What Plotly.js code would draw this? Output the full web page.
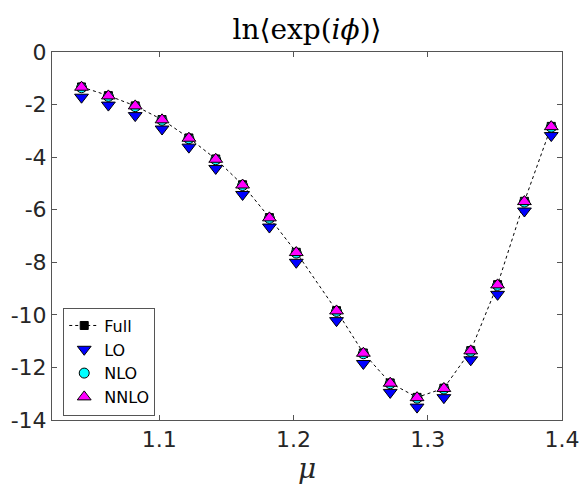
<!DOCTYPE html>
<html>
<head>
<meta charset="utf-8">
<script src="https://cdn.plot.ly/plotly-3.0.1.min.js"></script>
<style>html,body{margin:0;padding:0;background:#fff;}#chart{width:582px;height:491px;}</style>
</head>
<body>
<div id="chart"></div>
<script>
const mu = [1.042,1.062,1.082,1.102,1.122,1.142,1.162,1.182,1.202,1.232,1.252,1.272,1.292,1.312,1.332,1.352,1.372,1.392];
const full = [-1.33,-1.66,-2.05,-2.57,-3.27,-4.07,-5.05,-6.30,-7.62,-9.84,-11.45,-12.59,-13.14,-12.79,-11.36,-8.85,-5.68,-2.83];
const lo   = [-1.72,-2.02,-2.42,-2.93,-3.62,-4.43,-5.42,-6.66,-8.00,-10.22,-11.85,-12.95,-13.51,-13.15,-11.71,-9.22,-6.05,-3.18];
const nlo  = [-1.36,-1.69,-2.08,-2.60,-3.30,-4.10,-5.08,-6.33,-7.65,-9.87,-11.48,-12.62,-13.17,-12.82,-11.39,-8.88,-5.71,-2.86];
const nnlo = [-1.34,-1.67,-2.05,-2.58,-3.28,-4.08,-5.06,-6.31,-7.63,-9.85,-11.46,-12.60,-13.15,-12.80,-11.37,-8.86,-5.69,-2.84];
const names = ['Full','LO','NLO','NNLO'];
const xTicks = [1.1,1.2,1.3,1.4];
const yTicks = [0,-2,-4,-6,-8,-10,-12,-14];

const edge = {color:'#000', width:1};
const traces = [
  {x:mu, y:full, name:names[0], mode:'lines+markers', line:{color:'#000', width:1, dash:'3px,3px'},
   marker:{symbol:'square', size:8, color:'#000', line:edge}},
  {x:mu, y:lo, name:names[1], mode:'markers', marker:{symbol:'triangle-down', size:12, color:'#0000ff', line:edge}},
  {x:mu, y:nlo, name:names[2], mode:'markers', marker:{symbol:'circle', size:10, color:'#00ffff', line:edge}},
  {x:mu, y:nnlo, name:names[3], mode:'markers', marker:{symbol:'triangle-up', size:12, color:'#ff00ff', line:edge}}
];

const axisCommon = {
  showline:true, mirror:'ticks', linecolor:'#555', linewidth:1,
  ticks:'inside', ticklen:5, tickcolor:'#555', tickwidth:1,
  showgrid:false, zeroline:false,
  tickfont:{family:'DejaVu Sans', size:22, color:'#262626'}
};

const layout = {
  width:582, height:491,
  margin:{l:52, r:20, t:52, b:71},
  paper_bgcolor:'#fff', plot_bgcolor:'#fff',
  title:{text:'ln⟨exp(<i>iϕ</i>)⟩', font:{family:'DejaVu Serif', size:28, color:'#000'},
         x:0.5, xref:'paper', y:0.941, yref:'container', yanchor:'middle'},
  xaxis:Object.assign({}, axisCommon, {
    range:[1.02,1.40], tickmode:'array', tickvals:xTicks, ticktext:xTicks.map(v=>v.toFixed(1)),
    title:{text:'<i>μ</i>', font:{family:'DejaVu Serif', size:28, color:'#262626'}, standoff:6}
  }),
  yaxis:Object.assign({}, axisCommon, {
    range:[-14,0], tickmode:'array', tickvals:yTicks, ticktext:yTicks.map(v=>String(v))
  }),
  showlegend:true,
  legend:{x:0.022, y:0.012, xanchor:'left', yanchor:'bottom', bgcolor:'#fff',
          bordercolor:'#555', borderwidth:1, itemwidth:30,
          font:{family:'DejaVu Sans', size:16, color:'#000'}}
};

Plotly.newPlot('chart', traces, layout, {displayModeBar:false, staticPlot:true});
</script>
</body>
</html>
